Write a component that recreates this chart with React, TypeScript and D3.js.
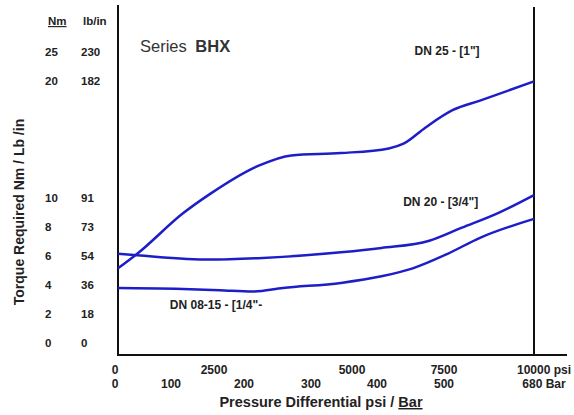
import React from "react";
import { scaleLinear, line, curveMonotoneX } from "d3";

// pressure ticks (psi) and their bar counterparts
const psiTicks = [0, 2500, 5000, 7500, 10000];
const psiTickLabels = ["0", "2500", "5000", "7500", "10000 psi"];
const barTicks = [0, 100, 200, 300, 400, 500, 680];
const barTickLabels = ["0", "100", "200", "300", "400", "500", "680 Bar"];

// torque ticks, Nm with lb/in equivalents
const nmTicks = [0, 2, 4, 6, 8, 10, 20, 25];
const lbinTicks = [0, 18, 36, 54, 73, 91, 182, 230];

// curves: [psi, Nm]
const dn25: [number, number][] = [
  [0, 5.2], [500, 6.2], [1700, 9.0], [2400, 10.4], [3300, 12.8], [3900, 13.7],
  [4800, 13.9], [6000, 14.3], [6400, 14.7], [7000, 16.1], [7750, 17.6],
  [8500, 18.4], [10000, 20.1],
];
const dn20: [number, number][] = [
  [0, 6.2], [500, 6.1], [2400, 5.8], [3300, 5.9], [4800, 6.3], [5800, 6.6],
  [7100, 7.1], [8000, 8.0], [9000, 9.0], [10000, 10.3],
];
const dn0815: [number, number][] = [
  [0, 3.85], [1500, 3.8], [2600, 3.7], [3200, 3.6], [3750, 3.85], [4800, 4.2],
  [5800, 4.65], [6650, 5.2], [7600, 6.2], [8500, 7.3], [10000, 8.6],
];
const curveLabels = [
  { text: "DN 25 - [1\"]", psi: 6700, nm: 25.2 },
  { text: "DN 20 - [3/4\"]", psi: 6390, nm: 9.7 },
  { text: "DN 08-15 - [1/4\"-", psi: 1350, nm: 2.6 },
];

const W = 574;
const H = 415;
const font = "'Liberation Sans', Arial, sans-serif";
const blue = "#1e1ec8";

export default function App() {
  // the printed scales are not evenly spaced, so both are piecewise
  const x = scaleLinear().domain(psiTicks).range([118, 214, 352, 444, 534]);
  const xBar = scaleLinear().domain(barTicks).range([118, 171, 244, 311, 377, 444, 534]);
  const y = scaleLinear().domain([0, 10, 20, 25]).range([344, 198.5, 82, 53]);

  const path = line<[number, number]>()
    .x((d) => x(d[0]))
    .y((d) => y(d[1]))
    .curve(curveMonotoneX);

  const axisY = 355;

  return (
    <svg
      width={W}
      height={H}
      viewBox={`0 0 ${W} ${H}`}
      style={{ position: "absolute", left: 0, top: 0, background: "#fff" }}
      fontFamily={font}
    >
      {/* frame */}
      <line x1={x(0)} x2={x(0)} y1={5} y2={axisY + 1} stroke="#111" strokeWidth={2} />
      <line x1={x(10000)} x2={x(10000)} y1={7} y2={axisY} stroke="#111" strokeWidth={2} />
      <line x1={x(0) - 1} x2={567} y1={axisY} y2={axisY} stroke="#111" strokeWidth={2} />

      {/* y tick columns */}
      <text x={48} y={22} fontSize={11.5} fontWeight="bold" fill="#222" dominantBaseline="middle" textDecoration="underline">
        Nm
      </text>
      <text x={83} y={22} fontSize={11.5} fontWeight="bold" fill="#222" dominantBaseline="middle">
        lb/in
      </text>
      {nmTicks.map((t, i) => (
        <g key={t} fontSize={11.5} fontWeight="bold" fill="#222">
          <text x={45} y={y(t)} dominantBaseline="middle">{t}</text>
          <text x={81} y={y(t)} dominantBaseline="middle">{lbinTicks[i]}</text>
        </g>
      ))}

      {/* x tick rows */}
      {psiTicks.map((t, i) => (
        <text
          key={"p" + t}
          x={x(t) + (i === psiTicks.length - 1 ? 10 : i === 0 ? -3 : 0)}
          y={371}
          fontSize={12}
          fontWeight="bold"
          fill="#222"
          textAnchor="middle"
          dominantBaseline="middle"
        >
          {psiTickLabels[i]}
        </text>
      ))}
      {barTicks.map((t, i) => (
        <text
          key={"b" + t}
          x={xBar(t) + (i === barTicks.length - 1 ? 10 : i === 0 ? -3 : 0)}
          y={385}
          fontSize={12}
          fontWeight="bold"
          fill="#222"
          textAnchor="middle"
          dominantBaseline="middle"
        >
          {barTickLabels[i]}
        </text>
      ))}

      {/* axis titles */}
      <text x={321} y={403} fontSize={14.5} fontWeight="bold" fill="#222" textAnchor="middle" dominantBaseline="middle">
        Pressure Differential psi / <tspan textDecoration="underline">Bar</tspan>
      </text>
      <text
        transform={`translate(20,212) rotate(-90)`}
        fontSize={14}
        fontWeight="bold"
        fill="#222"
        textAnchor="middle"
        dominantBaseline="middle"
      >
        Torque Required Nm / Lb /in
      </text>

      {/* series title */}
      <text x={140} y={52} fontSize={16.5} fill="#333">
        Series <tspan dx={4} fontWeight="bold">BHX</tspan>
      </text>

      {/* curves */}
      {[dn25, dn20, dn0815].map((d, i) => (
        <path key={i} d={path(d) ?? ""} fill="none" stroke={blue} strokeWidth={2.5} />
      ))}
      {curveLabels.map((c) => (
        <text
          key={c.text}
          x={x(c.psi)}
          y={y(c.nm)}
          fontSize={12}
          fontWeight="bold"
          fill="#222"
          dominantBaseline="middle"
        >
          {c.text}
        </text>
      ))}
    </svg>
  );
}
